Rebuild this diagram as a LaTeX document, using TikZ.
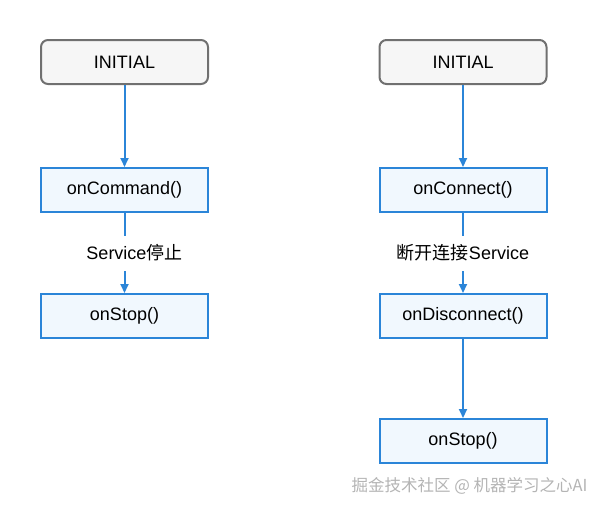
\documentclass[tikz,border=0pt]{standalone}
\usepackage{fontspec}
\setmainfont{Liberation Sans}
\newfontfamily\cjk{Noto Sans CJK SC}
\usetikzlibrary{arrows.meta,positioning,calc}
\definecolor{lineblue}{HTML}{2B85D8}
\definecolor{boxfill}{HTML}{F1F8FE}
\definecolor{startgray}{HTML}{707070}
\definecolor{startfill}{HTML}{F6F6F6}
\definecolor{markgray}{HTML}{B4B4B4}

\begin{document}
\begin{tikzpicture}[
    x=1pt, y=1pt,
    statebox/.style={draw=lineblue, line width=2pt, fill=boxfill,
                     minimum width=167pt, minimum height=44pt,
                     inner sep=0pt, font=\fontsize{18}{22}\selectfont},
    startbox/.style={statebox, draw=startgray, fill=startfill,
                     rounded corners=7pt},
    arr/.style={-{Triangle[length=9pt,width=8pt]}, line width=2pt, lineblue},
    edgelabel/.style={fill=white, inner xsep=3pt, minimum height=35pt,
                      font=\fontsize{18}{22}\selectfont},
    node distance=82pt
  ]
    \useasboundingbox (0,0) rectangle (599,-509);

    % Left: started service
    \node[startbox]              (li) at (124.5,-62) {INITIAL};
    \node[statebox, below=of li] (lc) {onCommand()};
    \node[statebox, below=80pt of lc] (ls) {onStop()};

    % Right: bound service
    \node[startbox]              (ri) at (463,-62) {INITIAL};
    \node[statebox, below=of ri] (rc) {onConnect()};
    \node[statebox, below=80pt of rc] (rd) {onDisconnect()};
    \node[statebox, below=79pt of rd] (rs) {onStop()};

    % Connectors
    \foreach \a/\b in {li/lc, lc/ls, ri/rc, rc/rd, rd/rs}
      \draw[arr] (\a) -- (\b);

    % Labels
    \node[edgelabel, xshift=10pt] (lt) at ($(lc.south)!0.5!(ls.north)$)
      {Service{\cjk 停止}};
    \node[edgelabel] (rt) at ($(rc.south)!0.5!(rd.north)$)
      {{\cjk 断开连接}Service};

    % Watermark
    \node[markgray, font=\cjk\fontsize{16.5}{20}\selectfont, anchor=east]
      (wm) at (591,-486) {掘金技术社区 @ 机器学习之心AI};
  \end{tikzpicture}
\end{document}
